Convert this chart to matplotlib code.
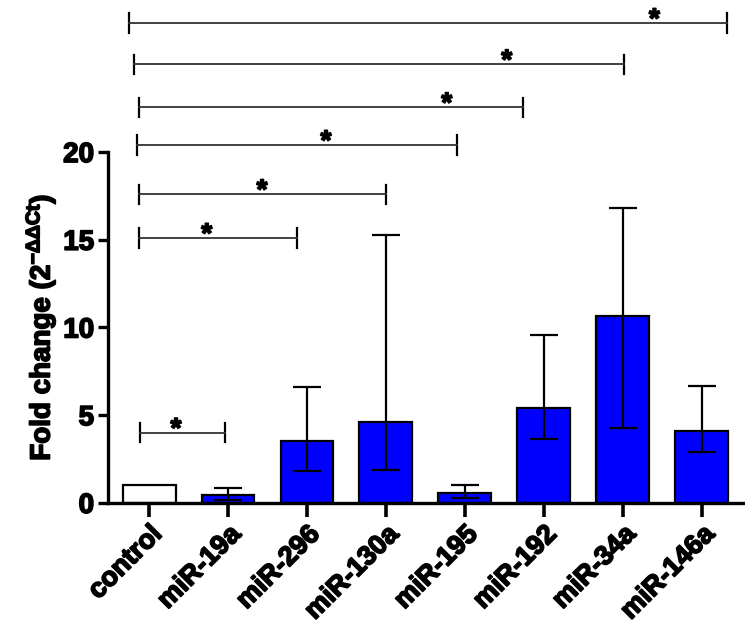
import matplotlib.pyplot as plt
import matplotlib.patheffects as pe
import numpy as np

plt.rcParams['font.family'] = ['Liberation Sans', 'DejaVu Sans']
plt.rcParams['font.weight'] = 'bold'
plt.rcParams['mathtext.fontset'] = 'custom'
plt.rcParams['mathtext.rm'] = 'Liberation Sans:bold'
plt.rcParams['mathtext.it'] = 'Liberation Sans:bold'
plt.rcParams['mathtext.bf'] = 'Liberation Sans:bold'

labels = ["control", "miR-19a", "miR-296", "miR-130a", "miR-195", "miR-192", "miR-34a", "miR-146a"]
means = [1.0, 0.46, 3.53, 4.63, 0.55, 5.40, 10.65, 4.12]
err_low = [1.0, 0.17, 1.84, 1.88, 0.28, 3.65, 4.29, 2.89]
err_high = [1.0, 0.85, 6.63, 15.3, 1.0, 9.6, 16.8, 6.67]
colors = ["white", "#0000FF", "#0000FF", "#0000FF", "#0000FF", "#0000FF", "#0000FF", "#0000FF"]

# significance brackets: (y, x start, x end, star x)
br_y = [4.0, 15.1, 17.6, 20.4, 22.55, 25.0, 27.35]
br_x0 = [-0.11, -0.13, -0.13, -0.15, -0.13, -0.19, -0.25]
br_x1 = [0.96, 1.87, 3.0, 3.9, 4.73, 6.01, 7.32]
br_star = [0.34, 0.73, 1.43, 2.24, 3.77, 4.53, 6.4]

x = np.arange(len(labels))
means = np.array(means)
yerr = np.array([means - np.array(err_low), np.array(err_high) - means])
yerr[:, 0] = 0

fat = [pe.withStroke(linewidth=1.2, foreground="black")]

fig = plt.figure(figsize=(7.45, 6.31), dpi=100)
ax = fig.add_axes([0.145, 0.203, 0.852, 0.556])

ax.bar(x, means, width=0.67, color=colors, edgecolor="black", linewidth=1.6, zorder=2)
ax.errorbar(x[1:], means[1:], yerr=yerr[:, 1:], fmt="none", ecolor="black",
            elinewidth=1.6, capsize=10, capthick=1.6, zorder=3)

for y, a, b, s in zip(br_y, br_x0, br_x1, br_star):
    ax.plot([a, b], [y, y], color="#333333", lw=1.3, clip_on=False, zorder=4)
    ax.plot([a, a], [y - 0.55, y + 0.55], color="black", lw=1.6, clip_on=False)
    ax.plot([b, b], [y - 0.55, y + 0.55], color="black", lw=1.6, clip_on=False)
    ax.text(s, y - 0.25, "*", ha="center", va="baseline", fontsize=20,
            fontweight="bold", clip_on=False, path_effects=fat)

ax.set_xlim(-0.52, 7.52)
ax.set_ylim(0, 20)
ax.set_yticks([0, 5, 10, 15, 20])
ax.set_xticks(x)
ax.set_xticklabels(labels, rotation=45, ha="right", rotation_mode="anchor",
                   fontsize=19.5, fontweight="bold")
for t in ax.get_xticklabels():
    t.set_path_effects(fat)
for t in ax.get_yticklabels():
    t.set_fontsize(20)
    t.set_fontweight("bold")
    t.set_path_effects(fat)
ax.set_ylabel(r"Fold change (2$^{-\Delta\Delta Ct}$)", fontsize=20, fontweight="bold",
              labelpad=4, path_effects=fat)

ax.spines["top"].set_visible(False)
ax.spines["right"].set_visible(False)
ax.spines["left"].set_linewidth(2.4)
ax.spines["bottom"].set_linewidth(2.4)
ax.tick_params(axis="y", length=7, width=2.4, pad=3)
ax.tick_params(axis="x", length=10, width=2.6, pad=3)

fig.savefig("out.png", dpi=100)
